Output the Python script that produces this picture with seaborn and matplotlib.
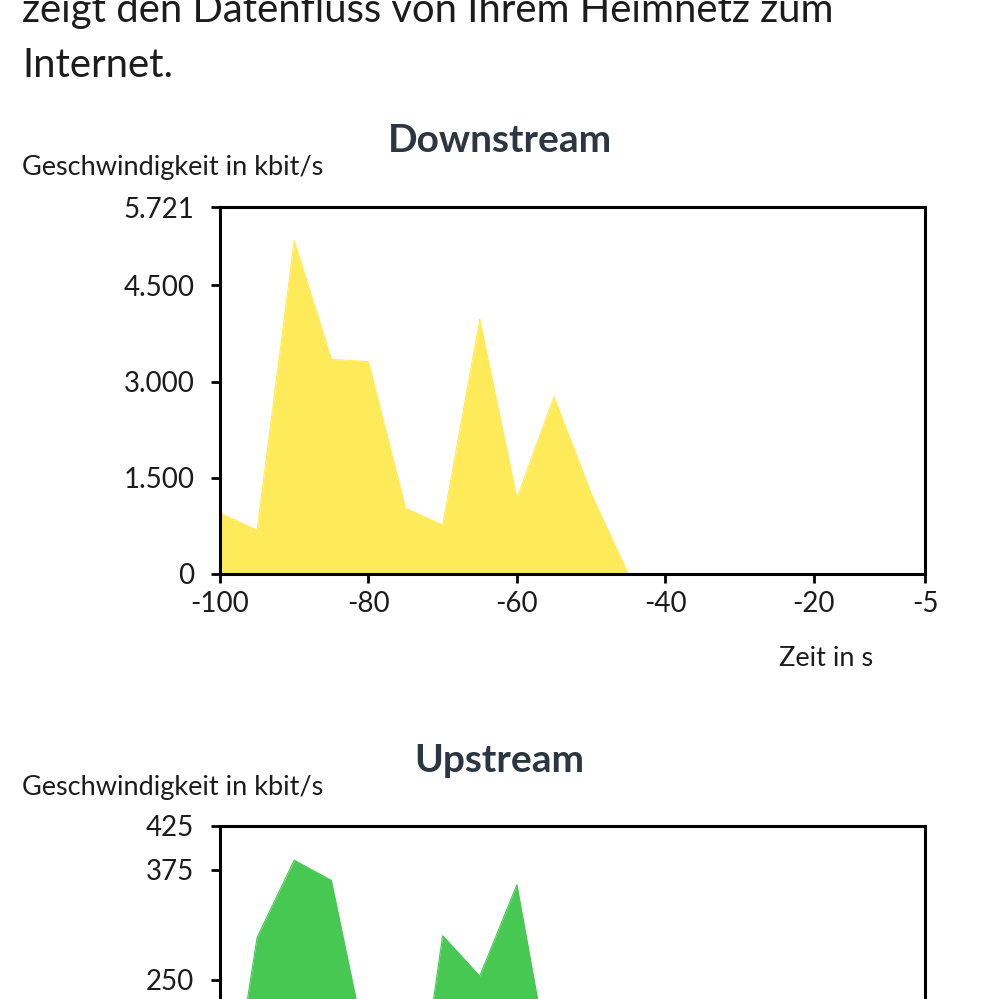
import matplotlib
matplotlib.use("Agg")
import matplotlib.pyplot as plt
import matplotlib.ticker as mticker
import seaborn as sns
import pandas as pd

# time axis in seconds (every 5 s)
zeit = [-100, -95, -90, -85, -80, -75, -70, -65, -60, -55,
        -50, -45, -40, -35, -30, -25, -20, -15, -10, -5]
downstream = [946, 686, 5196, 3347, 3310, 1024, 764, 3970, 1180, 2764,
              1258, 0, 0, 0, 0, 0, 0, 0, 0, 0]
upstream = [27, 298, 386, 363, 160, 4, 300, 254, 358, 125,
            40, 0, 0, 0, 0, 0, 0, 0, 0, 0]

x_ticks = [-100, -80, -60, -40, -20, -5]
down_ticks = [0, 1500, 3000, 4500, 5721]
up_ticks = [0, 125, 250, 375, 425]

intro_lines = ["zeigt den Datenfluss von Ihrem Heimnetz zum", "Internet."]
ylabel = "Geschwindigkeit in kbit/s"
xlabel = "Zeit in s"

YELLOW = "#ffeb5a"
GREEN = "#46c853"
TITLE_COL = "#2b3640"
TEXT_COL = "#1c1c1c"

sns.set_theme(style="white")
plt.rcParams['font.family'] = ['Lato', 'DejaVu Sans']
plt.rcParams['axes.unicode_minus'] = False

df = pd.DataFrame({'Zeit': zeit, 'Downstream': downstream, 'Upstream': upstream})


def de_fmt(v, pos):
    return f"{int(round(v)):,}".replace(",", ".")


def draw_panel(fig, rect, col, color, yticks, title, title_y, label_y, xlab=True):
    ax = fig.add_axes(rect)
    ax.fill_between(df['Zeit'], df[col], 0, color=color, linewidth=0)
    sns.lineplot(data=df, x='Zeit', y=col, color=color, linewidth=0.8, ax=ax)
    ax.set_xlim(-100, -5)
    ax.set_ylim(0, yticks[-1])
    ax.set_xticks(x_ticks)
    ax.set_yticks(yticks)
    ax.set_xlabel("")
    ax.set_ylabel("")
    for s in ax.spines.values():
        s.set_color("black")
        s.set_linewidth(2.2)
    ax.tick_params(axis='both', direction='out', length=6.5, width=2, color='black',
                   labelsize=20, labelcolor=TEXT_COL, left=True, bottom=True)
    ax.tick_params(axis='y', pad=12)
    ax.tick_params(axis='x', pad=6)
    if xlab:
        ax.xaxis.set_major_formatter(mticker.FuncFormatter(lambda v, p: f"{int(v)}"))
        ax.yaxis.set_major_formatter(mticker.FuncFormatter(de_fmt))
        fig.text(0.874, 1 - 658 / 999, xlabel, ha='right', va='center',
                 fontsize=19.5, color=TEXT_COL)
    else:
        # lower part of this panel lies below the visible page
        ax.xaxis.set_major_formatter(mticker.NullFormatter())
        ax.yaxis.set_major_formatter(mticker.FuncFormatter(
            lambda v, p: de_fmt(v, p) if v >= 200 else ""))
    fig.text(0.5, title_y, title, ha='center', va='center', fontsize=28,
             fontweight='bold', color=TITLE_COL)
    fig.text(0.022, label_y, ylabel, ha='left', va='center', fontsize=19.5, color=TEXT_COL)
    return ax


fig = plt.figure(figsize=(9.99, 9.99), dpi=100)
fig.patch.set_facecolor("white")

fig.text(0.022, 1 - 22 / 999, intro_lines[0], ha='left', va='baseline', fontsize=28.8,
         color=TEXT_COL)
fig.text(0.022, 1 - 77 / 999, intro_lines[1], ha='left', va='baseline', fontsize=28.8,
         color=TEXT_COL)

draw_panel(fig, [220 / 999, 1 - 574 / 999, 705 / 999, 367 / 999], 'Downstream', YELLOW,
           down_ticks, "Downstream", 1 - 140 / 999, 1 - 168 / 999)
draw_panel(fig, [220 / 999, 1 - 1199 / 999, 705 / 999, 373 / 999], 'Upstream', GREEN,
           up_ticks, "Upstream", 1 - 760 / 999, 1 - 787 / 999, xlab=False)

fig.savefig("out.png", dpi=100, facecolor="white")
